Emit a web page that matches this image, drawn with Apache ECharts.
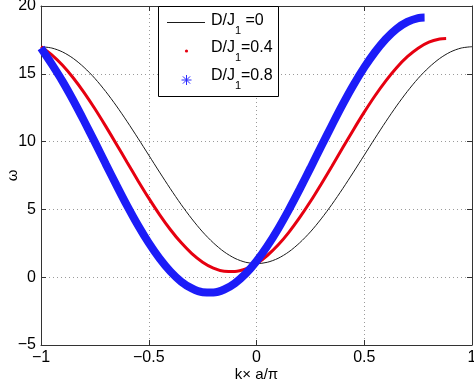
<!DOCTYPE html>
<html>
<head>
<meta charset="utf-8">
<script src="https://cdn.jsdelivr.net/npm/echarts@6/dist/echarts.min.js"></script>
<style>html,body{margin:0;padding:0;background:#fff}#c{width:474px;height:382px}</style>
</head>
<body>
<div id="c"></div>
<script>
// k values (x) and omega values (y)
const kBlack = [-1,-0.95,-0.9,-0.85,-0.8,-0.75,-0.7,-0.65,-0.6,-0.55,-0.5,-0.45,-0.4,-0.35,-0.3,-0.25,-0.2,-0.15,-0.1,-0.05,0,0.05,0.1,0.15,0.2,0.25,0.3,0.35,0.4,0.45,0.5,0.55,0.6,0.65,0.7,0.75,0.8,0.85,0.9,0.95,1];
const wBlack = [17,16.9,16.61,16.13,15.47,14.66,13.7,12.63,11.47,10.25,9,7.75,6.53,5.37,4.3,3.34,2.53,1.87,1.39,1.1,1,1.1,1.39,1.87,2.53,3.34,4.3,5.37,6.53,7.75,9,10.25,11.47,12.63,13.7,14.66,15.47,16.13,16.61,16.9,17];

const kRed = [-1,-0.95,-0.9,-0.85,-0.8,-0.75,-0.7,-0.65,-0.6,-0.55,-0.5,-0.45,-0.4,-0.35,-0.3,-0.25,-0.2,-0.15,-0.1,-0.05,0,0.05,0.1,0.15,0.2,0.25,0.3,0.35,0.4,0.45,0.5,0.55,0.6,0.65,0.7,0.75,0.8,0.85,0.88];
const wRed = [17.0,16.4,15.63,14.69,13.61,12.42,11.14,9.81,8.46,7.12,5.83,4.62,3.52,2.55,1.74,1.11,0.67,0.44,0.42,0.61,1.0,1.6,2.37,3.31,4.39,5.58,6.86,8.19,9.54,10.88,12.17,13.38,14.48,15.45,16.26,16.89,17.33,17.56,17.6];

const kBlue = [-1,-0.95,-0.9,-0.85,-0.8,-0.75,-0.7,-0.65,-0.6,-0.55,-0.5,-0.45,-0.4,-0.35,-0.3,-0.25,-0.2,-0.15,-0.1,-0.05,0,0.05,0.1,0.15,0.2,0.25,0.3,0.35,0.4,0.45,0.5,0.55,0.6,0.65,0.7,0.75,0.78];
const wBlue = [16.9,15.71,14.44,13.03,11.52,9.96,8.36,6.79,5.26,3.83,2.53,1.39,0.43,-0.32,-0.83,-1.11,-1.13,-0.91,-0.44,0.26,1.18,2.29,3.56,4.97,6.48,8.04,9.64,11.21,12.74,14.17,15.47,16.61,17.57,18.32,18.83,19.11,19.15];

const seriesNames = ['D/J1 =0', 'D/J1=0.4', 'D/J1=0.8'];
const legendMain = ['D/J', 'D/J', 'D/J'];
const legendSub = ['1', '1', '1'];
const legendTail = [' =0', '=0.4', '=0.8'];
const xTickLabels = {'-1':'\u22121','-0.5':'\u22120.5','0':'0','0.5':'0.5','1':'1'};
const xName = 'k\u00d7 a/\u03c0';
const yName = '\u03c9';

const zip = (a, b) => a.map((v, i) => [v, b[i]]);
const FONT = 'Liberation Sans, Arial, Helvetica, sans-serif';

const chart = echarts.init(document.getElementById('c'), null, {renderer: 'canvas'});

const axisCommon = {
  axisLine: {show: true, onZero: false, lineStyle: {color: '#333', width: 1}},
  axisTick: {show: true, inside: true, length: 5, lineStyle: {color: '#333'}},
};

function asterisk(cx, cy, r, color) {
  const d = r * 0.72;
  const segs = [[0, -r, 0, r], [-r, 0, r, 0], [-d, -d, d, d], [-d, d, d, -d]];
  return segs.map(s => ({type: 'line', shape: {x1: cx + s[0], y1: cy + s[1], x2: cx + s[2], y2: cy + s[3]},
    style: {stroke: color, lineWidth: 1}, z: 101}));
}

const legendTexts = [];
const rowsY = [21, 48, 76];
for (let i = 0; i < 3; i++) {
  legendTexts.push({type: 'text', x: 211, y: rowsY[i], style: {text: legendMain[i], font: '16px ' + FONT, fill: '#000', verticalAlign: 'middle'}, z: 101});
  legendTexts.push({type: 'text', x: 235, y: rowsY[i] + 10, style: {text: legendSub[i], font: '11px ' + FONT, fill: '#000', verticalAlign: 'middle'}, z: 101});
  legendTexts.push({type: 'text', x: 241, y: rowsY[i], style: {text: legendTail[i], font: '16px ' + FONT, fill: '#000', verticalAlign: 'middle'}, z: 101});
}

chart.setOption({
  animation: false,
  backgroundColor: '#fff',
  grid: {left: 41, right: 2, top: 6, bottom: 37, containLabel: false, outerBoundsMode: 'none'},
  xAxis: [
    Object.assign({
      type: 'value', min: -1, max: 1, interval: 0.5,
      name: xName, nameLocation: 'middle', nameGap: 22, nameMoveOverlap: false,
      nameTextStyle: {fontFamily: FONT, fontSize: 15, color: '#000'},
      axisLabel: {fontFamily: FONT, fontSize: 16, color: '#000', margin: 5,
        formatter: v => xTickLabels[String(v)] !== undefined ? xTickLabels[String(v)] : String(v)},
      splitLine: {show: true, lineStyle: {color: '#9a9a9a', type: [1, 3], width: 1}}
    }, axisCommon),
    Object.assign({
      type: 'value', min: -1, max: 1, interval: 0.5, position: 'top',
      axisLabel: {show: false}, splitLine: {show: false}
    }, axisCommon)
  ],
  yAxis: [
    Object.assign({
      type: 'value', min: -5, max: 20, interval: 5,
      name: yName, nameLocation: 'middle', nameGap: 21, nameMoveOverlap: false,
      nameTextStyle: {fontFamily: FONT, fontSize: 15, color: '#000'},
      axisLabel: {fontFamily: FONT, fontSize: 16, color: '#000', margin: 5,
        formatter: v => String(v).replace('-', '\u2212')},
      splitLine: {show: true, lineStyle: {color: '#9a9a9a', type: [1, 3], width: 1}}
    }, axisCommon),
    Object.assign({
      type: 'value', min: -5, max: 20, interval: 5, position: 'right',
      axisLabel: {show: false}, splitLine: {show: false}
    }, axisCommon)
  ],
  series: [
    {name: seriesNames[0], type: 'line', data: zip(kBlack, wBlack), smooth: 0.3,
      showSymbol: false, lineStyle: {color: '#1a1a1a', width: 1}, z: 3},
    {name: seriesNames[1], type: 'line', data: zip(kRed, wRed), smooth: 0.3,
      showSymbol: false, lineStyle: {color: '#e60010', width: 3}, z: 4},
    {name: seriesNames[2], type: 'line', data: zip(kBlue, wBlue), smooth: 0.3,
      showSymbol: false, lineStyle: {color: '#1c1cf8', width: 8}, z: 5}
  ],
  graphic: [
    {type: 'rect', shape: {x: 158.5, y: 6.5, width: 120, height: 90},
      style: {fill: '#fff', stroke: '#000', lineWidth: 1}, z: 100},
    {type: 'line', shape: {x1: 167, y1: 22.5, x2: 205, y2: 22.5},
      style: {stroke: '#1a1a1a', lineWidth: 1}, z: 101},
    {type: 'circle', shape: {cx: 186.5, cy: 51, r: 1.6},
      style: {fill: '#e60010'}, z: 101}
  ].concat(asterisk(186.5, 80, 5, '#2a2aff')).concat(legendTexts)
});
</script>
</body>
</html>
